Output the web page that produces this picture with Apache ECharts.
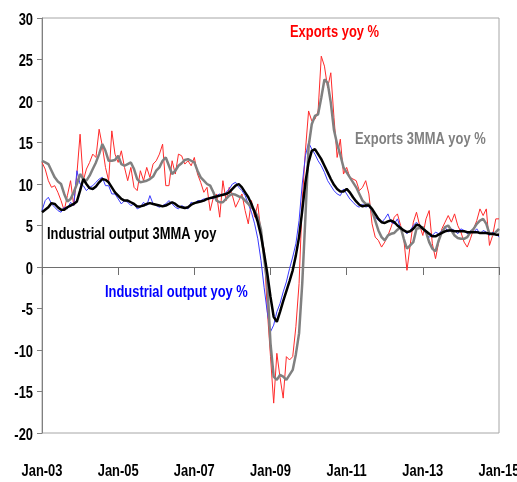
<!DOCTYPE html>
<html>
<head>
<meta charset="utf-8">
<script src="https://cdn.jsdelivr.net/npm/echarts@6/dist/echarts.min.js"></script>
<style>
  html, body { margin: 0; padding: 0; background: #fff; }
  #chart { width: 517px; height: 482px; }
</style>
</head>
<body>
<div id="chart"></div>
<script>
// monthly, Jan-03 .. Jan-15
var months = [];
var monNames = ["Jan", "Feb", "Mar", "Apr", "May", "Jun", "Jul", "Aug", "Sep", "Oct", "Nov", "Dec"];
for (var y = 3; y <= 15; y++) {
  for (var mo = 0; mo < 12; mo++) {
    if (y === 15 && mo > 0) break;
    months.push(monNames[mo] + "-" + (y < 10 ? "0" + y : "" + y));
  }
}

var xTickLabels = ["Jan-03", "Jan-05", "Jan-07", "Jan-09", "Jan-11", "Jan-13", "Jan-15"];
var yTicks = [-20, -15, -10, -5, 0, 5, 10, 15, 20, 25, 30];

// Exports yoy %
var exportsYoy = [
  12.6, 11.8, 10.4, 9.6, 9.8, 9.0, 8.0, 6.8, 8.6, 10.4, 7.4, 11.2,
  16.0, 10.4, 11.8, 12.6, 13.6, 13.2, 16.6, 14.6, 12.0, 10.4, 16.4, 13.6,
  12.6, 14.0, 12.0, 10.4, 12.0, 9.6, 9.2, 11.6, 10.4, 12.0, 10.8, 12.4,
  12.8, 13.6, 14.8, 9.8, 9.8, 12.8, 11.2, 13.6, 13.4, 12.4, 12.8, 12.2,
  13.2, 11.2, 10.2, 9.0, 9.6, 6.8, 8.4, 8.8, 6.0, 10.4, 8.0, 9.6,
  8.6, 7.2, 8.0, 8.8, 6.8, 5.2, 8.0, 6.0, 7.6, 4.0, 2.0, -5.2,
  -10.8, -16.4, -10.4, -13.3, -15.8, -10.8, -11.2, -10.8, -7.2, -2.0, 8.0, 14.0,
  18.8, 17.6, 17.8, 18.8, 25.4, 24.2, 21.6, 23.4, 18.0, 13.2, 15.4, 11.2,
  12.0, 10.8, 10.6, 10.4, 9.2, 9.6, 10.4, 8.8, 5.2, 3.6, 3.2, 2.4,
  3.0, 3.8, 4.8, 6.0, 6.4, 5.0, 3.4, -0.4, 2.6, 5.4, 6.6, 5.0,
  3.8, 5.8, 6.8, 2.8, 1.0, 3.0, 4.6, 5.4, 6.2, 5.4, 6.4, 5.0,
  4.2, 3.0, 2.4, 3.4, 4.6, 5.6, 7.0, 6.2, 7.0, 2.6, 3.8, 5.8,
  5.8
];

// Exports 3MMA yoy %
var exports3mma = [
  12.8, 12.6, 12.4, 11.6, 10.8, 10.3, 10.0, 8.8, 7.9, 8.2, 9.0, 10.0,
  11.2, 10.6, 10.4, 11.0, 11.8, 12.6, 13.6, 14.8, 14.0, 12.8, 12.8, 12.9,
  13.4, 12.4, 12.2, 12.4, 12.6, 11.8, 10.6, 10.2, 10.3, 10.4, 10.6, 10.9,
  11.6, 12.0, 12.8, 13.2, 12.2, 11.2, 11.6, 12.2, 12.5, 12.9, 13.0, 12.8,
  12.6, 11.6, 10.8, 10.4, 10.0, 9.8, 9.0, 8.0, 7.8, 7.8, 8.2, 8.6,
  8.8, 8.7, 8.5, 8.4, 8.0, 7.6, 7.2, 6.8, 6.0, 4.5, 1.0, -2.0,
  -9.2, -13.2, -13.6, -13.0, -13.2, -13.6, -13.0, -12.4, -10.5, -8.0, -2.0, 6.0,
  14.5, 17.2, 18.2, 18.4, 20.4, 22.6, 22.2, 19.8, 16.5, 14.8, 13.5, 12.0,
  11.4, 10.8, 10.2, 9.6, 8.8, 8.0, 7.6, 7.6, 6.8, 5.6, 4.4, 3.6,
  3.2, 3.8, 4.0, 4.1, 4.5, 4.8, 3.4, 2.2, 2.6, 3.0, 4.6, 4.7,
  4.8, 4.2, 3.0, 2.2, 1.9, 3.2, 4.2, 4.8, 5.0, 4.4, 3.8, 3.5,
  3.4, 3.4, 3.6, 4.2, 4.6, 5.2, 5.6, 5.8, 5.2, 4.0, 3.9, 4.2,
  4.6
];

// Industrial output yoy %
var ipYoy = [
  6.8, 8.0, 8.4, 7.6, 7.2, 6.8, 6.6, 7.2, 7.0, 7.8, 7.4, 11.6,
  10.0, 9.8, 9.2, 9.6, 9.8, 10.2, 10.6, 10.8, 9.8, 9.8, 8.8, 8.8,
  8.2, 7.6, 8.0, 7.8, 7.4, 7.6, 7.0, 7.2, 7.8, 7.4, 8.6, 7.6,
  7.4, 7.2, 7.4, 7.6, 8.0, 7.6, 7.2, 7.0, 7.4, 7.2, 7.0, 7.8,
  7.6, 8.0, 8.0, 8.2, 8.2, 8.4, 8.2, 8.6, 8.8, 8.6, 9.0, 9.4,
  10.0, 10.2, 9.6, 9.2, 8.6, 7.6, 6.6, 5.2, 3.4, 0.8, -2.5, -5.5,
  -7.8, -7.0, -5.4, -4.4, -3.0, -1.8, -0.2, 1.2, 2.8, 5.6, 10.0, 13.4,
  15.0, 14.2, 13.6, 12.8, 12.2, 11.4, 10.4, 9.8, 9.2, 8.8, 8.6, 9.4,
  8.8, 8.2, 7.8, 7.4, 7.2, 7.6, 7.2, 7.4, 6.6, 6.0, 5.6, 5.4,
  5.8, 6.4, 5.4, 5.2, 5.8, 4.6, 4.4, 4.0, 4.4, 5.0, 5.4, 4.8,
  4.6, 4.0, 3.6, 3.8, 4.2, 4.0, 4.4, 4.8, 4.2, 4.6, 4.4, 4.0,
  4.6, 4.4, 4.0, 4.4, 4.2, 4.6, 4.0, 4.4, 4.2, 3.8, 4.2, 4.0,
  3.6
];

// Industrial output 3MMA yoy
var ip3mma = [
  6.6, 6.9, 7.2, 7.7, 7.6, 7.2, 6.9, 6.9, 7.2, 7.4, 7.6, 7.9,
  9.2, 10.6, 10.0, 9.5, 9.4, 9.7, 10.2, 10.6, 10.5, 10.2, 9.6, 9.0,
  8.6, 8.2, 8.0, 8.0, 7.8, 7.6, 7.3, 7.3, 7.4, 7.6, 7.7, 7.6,
  7.5, 7.4, 7.3, 7.4, 7.6, 7.8, 7.6, 7.3, 7.2, 7.1, 7.2, 7.5,
  7.7, 7.8, 7.9, 8.0, 8.2, 8.3, 8.4, 8.5, 8.6, 8.7, 8.8, 9.0,
  9.4, 9.8, 10.0, 9.6, 9.0, 8.4, 7.6, 6.6, 5.4, 3.8, 1.6, -0.8,
  -3.6, -6.0, -6.6, -5.4, -4.1, -2.9, -1.7, -0.4, 1.4, 3.6, 6.8, 10.2,
  12.6, 14.0, 14.2, 13.6, 13.0, 12.2, 11.4, 10.6, 9.9, 9.4, 9.1, 9.1,
  9.4, 9.0, 8.4, 7.9, 7.5, 7.3, 7.4, 7.4, 7.0, 6.4, 5.8, 5.4,
  5.3, 5.5, 5.6, 5.4, 5.0, 4.7, 4.4, 4.2, 4.3, 4.6, 5.1, 5.0,
  4.6, 4.3, 4.0, 3.7, 3.7, 3.9, 4.1, 4.3, 4.4, 4.4, 4.3, 4.3,
  4.3, 4.3, 4.2, 4.2, 4.2, 4.2, 4.1, 4.1, 4.1, 4.0, 4.0, 3.9,
  3.9
];

// narrow bold look: Liberation Sans bold squeezed horizontally
var FONT = 'bold 17px "Liberation Sans", Arial, sans-serif';
var SQUEEZE = 0.76;

var chart = echarts.init(document.getElementById("chart"), null, { renderer: "canvas" });

function lineSeries(name, data, color, width) {
  return {
    name: name,
    type: "line",
    data: data,
    xAxisIndex: 0,
    symbol: "none",
    smooth: false,
    animation: false,
    lineStyle: { color: color, width: width },
    itemStyle: { color: color }
  };
}

function label(text, x, y, color, align) {
  return {
    type: "text",
    x: x,
    y: y,
    scaleX: SQUEEZE,
    z: 100,
    silent: true,
    style: { text: text, fill: color, font: FONT, align: align, verticalAlign: "middle" }
  };
}

var option = {
  backgroundColor: "#ffffff",
  animation: false,
  grid: {
    left: 42,
    top: 18,
    right: 18,
    bottom: 49,
    show: true,
    borderColor: "#a6a6a6",
    borderWidth: 1,
    backgroundColor: "#ffffff"
  },
  xAxis: [
    {
      type: "category",
      data: months,
      boundaryGap: false,
      position: "bottom",
      axisLine: { show: false, onZero: false },
      axisTick: { show: false },
      splitLine: { show: false },
      axisLabel: { show: false }
    },
    {
      // zero line with the year ticks
      type: "category",
      data: months,
      boundaryGap: false,
      position: "bottom",
      axisLine: { show: true, onZero: true, lineStyle: { color: "#6e6e6e", width: 1 } },
      axisTick: {
        show: true,
        length: 8,
        interval: function (idx) { return idx % 24 === 0; },
        lineStyle: { color: "#6e6e6e" }
      },
      axisLabel: { show: false },
      splitLine: { show: false }
    }
  ],
  yAxis: {
    type: "value",
    min: -20,
    max: 30,
    interval: 5,
    axisLine: { show: true, lineStyle: { color: "#808080" } },
    axisTick: { show: true, length: 5, lineStyle: { color: "#808080" } },
    splitLine: { show: false },
    axisLabel: { show: false }
  },
  series: [
    lineSeries("Exports yoy %", exportsYoy, "#ff2a2a", 1),
    lineSeries("Industrial output yoy %", ipYoy, "#3a3aff", 1),
    lineSeries("Exports 3MMA yoy %", exports3mma, "#808080", 2.5),
    lineSeries("Industrial output 3MMA yoy", ip3mma, "#000000", 2.5)
  ]
};

chart.setOption(option);

// tick labels placed through the axes' own scales
var graphics = [];
xTickLabels.forEach(function (name) {
  var px = chart.convertToPixel({ xAxisIndex: 0 }, name);
  graphics.push(label(name, px, 471, "#000", "center"));
});
yTicks.forEach(function (v) {
  var py = chart.convertToPixel({ yAxisIndex: 0 }, v);
  graphics.push(label(String(v), 33, py + 2, "#000", "right"));
});

// series annotations
graphics.push(label("Exports yoy %", 290, 32, "#ff0000", "left"));
graphics.push(label("Exports 3MMA yoy %", 355, 139, "#808080", "left"));
graphics.push(label("Industrial output 3MMA yoy", 47, 234, "#000000", "left"));
graphics.push(label("Industrial output yoy %", 105, 292, "#0000ff", "left"));

chart.setOption({ graphic: graphics });
</script>
</body>
</html>
